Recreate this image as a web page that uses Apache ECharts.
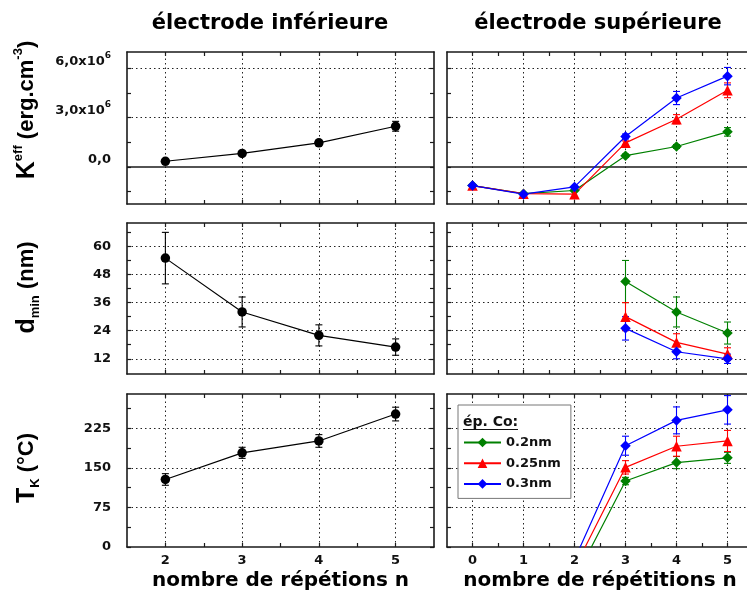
<!DOCTYPE html>
<html><head><meta charset="utf-8">
<script src="https://cdn.jsdelivr.net/npm/echarts@6/dist/echarts.min.js"></script>
<style>html,body{margin:0;padding:0;background:#fff}#c{width:747px;height:595px}</style>
</head><body><div id="c"></div>
<script>
// ---------------- data ----------------
const seriesNames = ['0.2nm', '0.25nm', '0.3nm'];

// lower electrode (électrode inférieure)
const nLower = [2, 3, 4, 5];
const keffLower = [0.35e6, 0.83e6, 1.47e6, 2.48e6];
const keffLowerErr = [0.1e6, 0.1e6, 0.15e6, 0.3e6];
const dminLower = [55, 32, 22, 17];
const dminLowerErr = [11, 6.4, 4.5, 3.5];
const tkLower = [128, 178.5, 201, 252];
const tkLowerErr = [11, 10.5, 12, 13];

// upper electrode (électrode supérieure)
const nUpperK = [0, 1, 2, 3, 4, 5];
const keffUp02 = [-1.13e6, -1.62e6, -1.43e6, 0.69e6, 1.25e6, 2.14e6];
const keffUp02Err = [0, 0, 0, 0.1e6, 0.12e6, 0.26e6];
const keffUp025 = [-1.13e6, -1.62e6, -1.65e6, 1.47e6, 2.91e6, 4.67e6];
const keffUp025Err = [0, 0, 0, 0.12e6, 0.28e6, 0.45e6];
const keffUp03 = [-1.13e6, -1.65e6, -1.21e6, 1.86e6, 4.2e6, 5.53e6];
const keffUp03Err = [0, 0, 0, 0.15e6, 0.4e6, 0.53e6];

const nUpperD = [3, 4, 5];
const dminUp02 = [45, 32, 23];
const dminUp02Err = [9, 6.4, 4.7];
const dminUp025 = [30, 19, 14];
const dminUp025Err = [6, 3.7, 2.7];
const dminUp03 = [25, 15, 12];
const dminUp03Err = [5, 3, 2];

const nUpperT = [2, 3, 4, 5];
const tkUp02 = [-62, 125, 160, 169];
const tkUp02Err = [0, 7, 11.5, 10.5];
const tkUp025 = [-40, 151, 191, 201];
const tkUp025Err = [0, 12.7, 19, 20];
const tkUp03 = [-24, 192, 240, 260];
const tkUp03Err = [0, 18, 25.5, 27];

// tick values
const xMajorLower = [2, 3, 4, 5];
const xMinorLower = [2.5, 3.5, 4.5];
const xMajorUpper = [0, 1, 2, 3, 4, 5];
const xMinorUpper = [0.5, 1.5, 2.5, 3.5, 4.5];
const yMajorK = [0, 3e6, 6e6];
const yMinorK = [-1.5e6, 1.5e6, 4.5e6];
const yMajorD = [12, 24, 36, 48, 60];
const yMinorD = [18, 30, 42, 54, 66];
const yMajorT = [0, 75, 150, 225];
const yMinorT = [37.5, 112.5, 187.5, 262.5];

// ---------------- styling ----------------
const FONT = 'DejaVu Sans';
const NFONT = 'Liberation Sans';
const LINE = '#1a1a1a';
const COLORS = ['#008000', '#ff0000', '#0000ff'];
const SYMBOLS = ['diamond', 'triangle', 'diamond'];

const cols = [{left: 127, width: 307}, {left: 447, width: 306}];
const rows = [{top: 52, height: 152}, {top: 223, height: 151}, {top: 394, height: 153}];

const grids = [], xAxes = [], yAxes = [], series = [];

function allTicks(a, b) { return a.concat(b).sort((p, q) => p - q); }
function zip(x, y) { return x.map((v, i) => [v, y[i]]); }

function errorBar(params, api) {
  const x = api.value(0);
  const p1 = api.coord([x, api.value(1)]);
  const p2 = api.coord([x, api.value(2)]);
  const c = api.visual('color');
  const w = 3.5;
  const st = {stroke: c, lineWidth: 1.1};
  return {type: 'group', children: [
    {type: 'line', shape: {x1: p1[0], y1: p1[1], x2: p2[0], y2: p2[1]}, style: st},
    {type: 'line', shape: {x1: p1[0] - w, y1: p1[1], x2: p1[0] + w, y2: p1[1]}, style: st},
    {type: 'line', shape: {x1: p2[0] - w, y1: p2[1], x2: p2[0] + w, y2: p2[1]}, style: st}
  ]};
}

const labelStyle = {fontFamily: FONT, fontWeight: 'bold', fontSize: 13, color: '#111'};
const nameRich = {
  M: {fontFamily: NFONT, fontWeight: 'bold', fontSize: 25, lineHeight: 30, color: '#000'},
  t: {fontFamily: NFONT, fontWeight: 'bold', fontSize: 22, lineHeight: 30, color: '#000'},
  sup: {fontFamily: NFONT, fontWeight: 'bold', fontSize: 13, lineHeight: 13, verticalAlign: 'top', color: '#000'},
  sub: {fontFamily: NFONT, fontWeight: 'bold', fontSize: 13, lineHeight: 13, verticalAlign: 'bottom', color: '#000'}
};

function addPanel(p) {
  const g = grids.length;
  grids.push({left: cols[p.col].left, width: cols[p.col].width, top: rows[p.row].top,
    height: rows[p.row].height, containLabel: false, outerBoundsMode: 'none'});
  const xTicks = allTicks(p.xMaj, p.xMin), yTicks = allTicks(p.yMaj, p.yMin);
  const axisLine = {show: true, onZero: false, lineStyle: {color: LINE, width: 1.6}};
  const tick = (vals) => ({show: true, inside: true, length: 4, customValues: vals, lineStyle: {color: LINE, width: 1.2}});
  xAxes.push({type: 'value', gridIndex: g, position: 'bottom', min: p.xr[0], max: p.xr[1],
    axisLine, axisTick: tick(xTicks), splitLine: {show: false},
    axisLabel: Object.assign({show: !!p.showX, customValues: p.xMaj, margin: 7}, labelStyle),
    name: p.xName || '', nameLocation: 'middle', nameGap: 24, nameMoveOverlap: false,
    nameTextStyle: {fontFamily: FONT, fontWeight: 'bold', fontSize: 20, color: '#000'}});
  xAxes.push({type: 'value', gridIndex: g, position: 'top', min: p.xr[0], max: p.xr[1],
    axisLine, axisTick: tick(xTicks), splitLine: {show: false}, axisLabel: {show: false}});
  const yLab = Object.assign({show: !!p.showY, customValues: p.yMaj, margin: 16}, labelStyle);
  if (p.yFormatter) { yLab.formatter = p.yFormatter; yLab.rich = p.yRich; }
  yAxes.push({type: 'value', gridIndex: g, position: 'left', min: p.yr[0], max: p.yr[1],
    axisLine, axisTick: tick(yTicks), splitLine: {show: false}, axisLabel: yLab,
    name: p.yName || '', nameLocation: 'middle', nameRotate: 90, nameGap: 85, nameMoveOverlap: false,
    nameTextStyle: {padding: [0, 0, 0, p.yNamePad || 0], rich: nameRich}});
  yAxes.push({type: 'value', gridIndex: g, position: 'right', min: p.yr[0], max: p.yr[1],
    axisLine, axisTick: tick(yTicks), splitLine: {show: false}, axisLabel: {show: false}});

  const gridData = p.xMaj.map(v => ({xAxis: v})).concat(p.yGrid.map(v => ({yAxis: v})));
  if (p.zero) gridData.push({yAxis: 0, lineStyle: {type: 'solid', color: LINE, width: 1.5}});

  p.sets.forEach((s, k) => {
    const line = {
      type: 'line', name: s.name, xAxisIndex: 2 * g, yAxisIndex: 2 * g,
      data: zip(s.x, s.y), symbol: s.symbol, symbolSize: s.size,
      itemStyle: {color: s.color}, lineStyle: {color: s.color, width: 1.2},
      clip: true, z: 3, silent: true, emphasis: {disabled: true}
    };
    if (k === 0) {
      line.markLine = {silent: true, symbol: ['none', 'none'], z: 1, animation: false,
        label: {show: false}, emphasis: {disabled: true},
        lineStyle: {type: [1.5, 3], color: '#222', width: 1}, data: gridData};
    }
    series.push(line);
    const ed = [];
    s.x.forEach((xv, i) => { if (s.e[i] > 0) ed.push([xv, s.y[i] - s.e[i], s.y[i] + s.e[i]]); });
    series.push({type: 'custom', name: s.name + ' err', xAxisIndex: 2 * g, yAxisIndex: 2 * g,
      data: ed, renderItem: errorBar, itemStyle: {color: s.color}, encode: {x: 0, y: [1, 2]},
      clip: true, z: 2, silent: true});
  });
}

const kFormatter = v => v === 0 ? '{n|0,0}' : '{n|' + (v / 1e6).toFixed(1).replace('.', ',') + 'x10}{s|6}';
const kRich = {
  n: {fontFamily: FONT, fontWeight: 'bold', fontSize: 13, padding: [4, 0, 18, 0], color: '#111'},
  s: {fontFamily: FONT, fontWeight: 'bold', fontSize: 9, lineHeight: 10, verticalAlign: 'top', color: '#111'}
};

function lowerSet(y, e) { return [{name: 'inf', x: nLower, y, e, color: '#000', symbol: 'circle', size: 9.5}]; }
function upperSets(x, ys, es) {
  return ys.map((y, k) => ({name: seriesNames[k], x, y, e: es[k], color: COLORS[k], symbol: SYMBOLS[k], size: 10.5}));
}

const xrL = [1.5, 5.5], xrU = [-0.5, 5.5];
const yrK = [-2.25e6, 7e6], yrD = [5.5, 70], yrT = [0, 290];

addPanel({col: 0, row: 0, xr: xrL, yr: yrK, xMaj: xMajorLower, xMin: xMinorLower, yMaj: yMajorK, yMin: yMinorK,
  yGrid: [3e6, 6e6], zero: true, showY: true, yFormatter: kFormatter, yRich: kRich,
  yName: '{M|K}{sup|eff}{t| (erg.cm}{sup|-3}{t|)}', yNamePad: 36, sets: lowerSet(keffLower, keffLowerErr)});
addPanel({col: 1, row: 0, xr: xrU, yr: yrK, xMaj: xMajorUpper, xMin: xMinorUpper, yMaj: yMajorK, yMin: yMinorK,
  yGrid: [3e6, 6e6], zero: true,
  sets: upperSets(nUpperK, [keffUp02, keffUp025, keffUp03], [keffUp02Err, keffUp025Err, keffUp03Err])});
addPanel({col: 0, row: 1, xr: xrL, yr: yrD, xMaj: xMajorLower, xMin: xMinorLower, yMaj: yMajorD, yMin: yMinorD,
  yGrid: yMajorD, showY: true, yName: '{M|d}{sub|min}{t| (nm)}', yNamePad: 22,
  sets: lowerSet(dminLower, dminLowerErr)});
addPanel({col: 1, row: 1, xr: xrU, yr: yrD, xMaj: xMajorUpper, xMin: xMinorUpper, yMaj: yMajorD, yMin: yMinorD,
  yGrid: yMajorD,
  sets: upperSets(nUpperD, [dminUp02, dminUp025, dminUp03], [dminUp02Err, dminUp025Err, dminUp03Err])});
addPanel({col: 0, row: 2, xr: xrL, yr: yrT, xMaj: xMajorLower, xMin: xMinorLower, yMaj: yMajorT, yMin: yMinorT,
  yGrid: [75, 150, 225], showY: true, showX: true, yName: '{M|T}{sub|K}{t| (°C)}', yNamePad: 5,
  xName: 'nombre de répétions n', sets: lowerSet(tkLower, tkLowerErr)});
addPanel({col: 1, row: 2, xr: xrU, yr: yrT, xMaj: xMajorUpper, xMin: xMinorUpper, yMaj: yMajorT, yMin: yMinorT,
  yGrid: [75, 150, 225], showX: true, xName: 'nombre de répétitions n',
  sets: upperSets(nUpperT, [tkUp02, tkUp025, tkUp03], [tkUp02Err, tkUp025Err, tkUp03Err])});

const chart = echarts.init(document.getElementById('c'), null, {renderer: 'canvas'});
chart.setOption({
  animation: false,
  backgroundColor: '#fff',
  grid: grids, xAxis: xAxes, yAxis: yAxes, series,
  legend: {
    data: seriesNames, orient: 'vertical', left: 458, top: 405,
    padding: [31, 10, 8, 5], itemWidth: 37, itemHeight: 12, itemGap: 7.7,
    backgroundColor: '#fff', borderColor: '#777', borderWidth: 1, selectedMode: false,
    textStyle: {fontFamily: FONT, fontWeight: 'bold', fontSize: 13, color: '#111'}
  },
  graphic: [
    {type: 'text', x: 270, y: 24, z: 100, style: {text: 'électrode inférieure', font: 'bold 21px "DejaVu Sans"', fill: '#000',
      align: 'center', verticalAlign: 'middle', textAlign: 'center', textVerticalAlign: 'middle'}},
    {type: 'text', x: 598, y: 24, z: 100, style: {text: 'électrode supérieure', font: 'bold 21px "DejaVu Sans"', fill: '#000',
      align: 'center', verticalAlign: 'middle', textAlign: 'center', textVerticalAlign: 'middle'}},
    {type: 'text', x: 463, y: 422, z: 100, style: {text: 'ép. Co:', font: 'bold 14px "DejaVu Sans"', fill: '#111',
      align: 'left', verticalAlign: 'middle', textAlign: 'left', textVerticalAlign: 'middle'}},
    {type: 'line', z: 100, shape: {x1: 463, y1: 429.5, x2: 518, y2: 429.5}, style: {stroke: '#111', lineWidth: 1.2}}
  ]
});
</script></body></html>
